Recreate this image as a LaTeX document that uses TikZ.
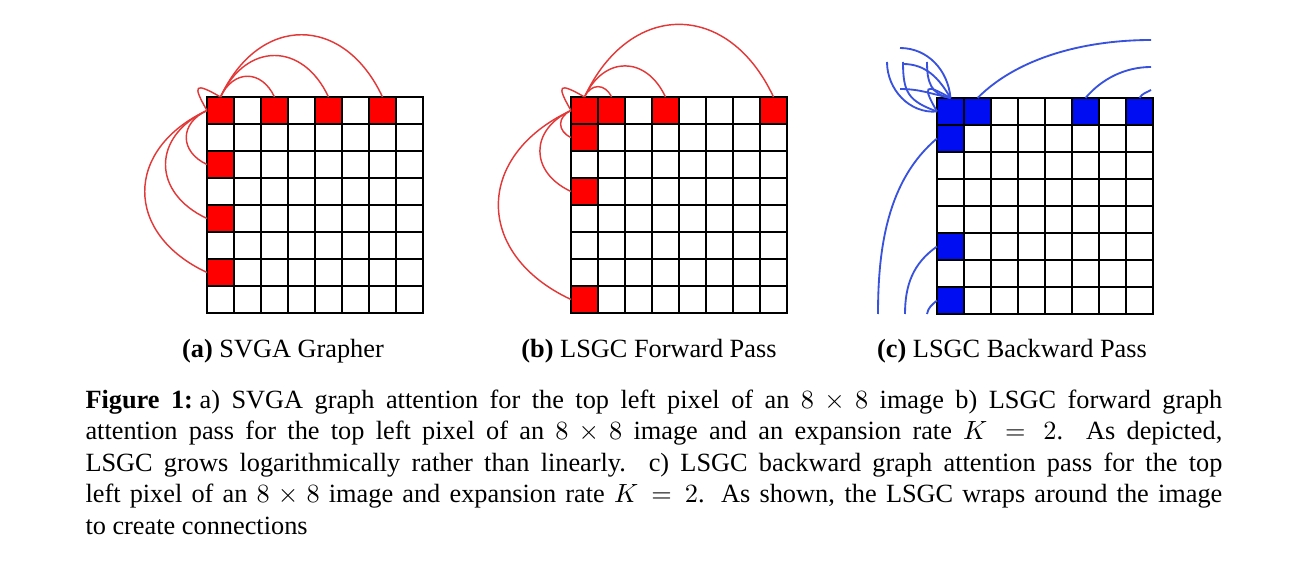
\documentclass[tikz,border=0pt]{standalone}
\usepackage[no-math]{fontspec}
\setmainfont{Liberation Serif}
\usetikzlibrary{calc,positioning}
\definecolor{cellred}{rgb}{1,0,0}
\definecolor{arcred}{rgb}{0.89,0.22,0.22}
\definecolor{cellblue}{rgb}{0,0.05,0.95}
\definecolor{arcblue}{rgb}{0.22,0.32,0.87}

\begin{document}
\begin{tikzpicture}[x=0.38pt,y=-0.38pt,
  cell/.style={draw=black,line width=0.7pt,minimum size=10.26pt,inner sep=0pt,outer sep=0pt},
  redarc/.style={arcred,line width=0.55pt},
  bluearc/.style={arcblue,line width=0.7pt},
  sub/.style={anchor=base,inner sep=0pt}]
  \useasboundingbox (0,0) rectangle (1306,585);
  \foreach \g/\gx/\gy in {a/207/97,b/571/97,c/937/98}
    \foreach \r in {0,...,7}
      \foreach \c in {0,...,7}
        \node[cell] (\g-\r-\c) at (\gx+13.5+27*\c,\gy+13.5+27*\r) {};
  \foreach \n in {a-0-0,a-0-2,a-0-4,a-0-6,a-2-0,a-4-0,a-6-0,
                  b-0-0,b-0-1,b-0-3,b-0-7,b-1-0,b-3-0,b-7-0}
    \filldraw[fill=cellred,draw=black,line width=0.7pt] (\n.north west) rectangle (\n.south east);
  \foreach \n in {c-0-0,c-0-1,c-0-5,c-0-7,c-1-0,c-5-0,c-7-0}
    \filldraw[fill=cellblue,draw=black,line width=0.7pt] (\n.north west) rectangle (\n.south east);
  % (a) and (b): arcs from the top left pixel
  \foreach \g/\k in {a/2,a/4,a/6,b/1,b/3,b/7}{
    \draw[redarc] (\g-0-0.north) to[out=65,in=115,looseness=1.45] (\g-0-\k.north);
    \draw[redarc] (\g-0-0.west) to[out=205,in=155,looseness=1.45] (\g-\k-0.west);
  }
  \foreach \g in {a,b}
    \draw[redarc] (\g-0-0.north) to[out=150,in=120,looseness=4] (\g-0-0.west);
  % (c): wrapped connections
  \coordinate (r1) at (1151,40);  \coordinate (r5) at (1151,67);  \coordinate (r7) at (1151,90);
  \coordinate (d1) at (878,314);  \coordinate (d5) at (905,314);  \coordinate (d7) at (927,314);
  \draw[bluearc] (c-0-1.north) to[out=45,in=180,looseness=0.85] (r1);
  \draw[bluearc] (c-0-5.north) to[out=50,in=180,looseness=0.9] (r5);
  \draw[bluearc] (c-0-7.north) to[out=60,in=210] (r7);
  \draw[bluearc] (c-1-0.west) to[out=220,in=90,looseness=0.9] (d1);
  \draw[bluearc] (c-5-0.west) to[out=215,in=90] (d5);
  \draw[bluearc] (c-7-0.west) to[out=220,in=80] (d7);
  \coordinate (t1) at (900,48);  \coordinate (t2) at (887,62);  \coordinate (t3) at (903,64);
  \coordinate (t4) at (903,62);  \coordinate (t5) at (927,62);  \coordinate (t6) at (900,89);
  \draw[bluearc] (c-0-0.north) to[out=95,in=0] (t1);
  \draw[bluearc] (c-0-0.west) to[out=185,in=270] (t2);
  \draw[bluearc] (c-0-0.north) to[out=120,in=0] (t3);
  \draw[bluearc] (c-0-0.west) to[out=160,in=270,looseness=1.3] (t4);
  \draw[bluearc] (c-0-0.north) to[out=170,in=270,looseness=1.2] (t5);
  \draw[bluearc] (c-0-0.north) to[out=168,in=0] (t6);
  \draw[bluearc] (c-0-0.north) to[out=150,in=120,looseness=4] (c-0-0.west);
  % captions
  \node[sub] (capa) at (283,357) {\textbf{(a)} SVGA Grapher};
  \node[sub] (capb) at (649,357) {\textbf{(b)} LSGC Forward Pass};
  \node[sub] (capc) at (1012,357) {\textbf{(c)} LSGC Backward Pass};
  \node[anchor=north west,inner sep=0pt,text width=432pt,align=justify] (fig) at (85,389)
    {\textbf{Figure 1:}\hspace{2.5pt}a) SVGA graph attention for the top left pixel of an $8\times8$ image b) LSGC forward graph\linebreak
     attention pass for the top left pixel of an $8\times8$ image and an expansion rate $K=2$. As depicted,\linebreak
     LSGC grows logarithmically rather than linearly. c) LSGC backward graph attention pass for the top\linebreak
     left pixel of an $8\times8$ image and expansion rate $K=2$. As shown, the LSGC wraps around the image\linebreak
     to create connections};
\end{tikzpicture}
\end{document}
